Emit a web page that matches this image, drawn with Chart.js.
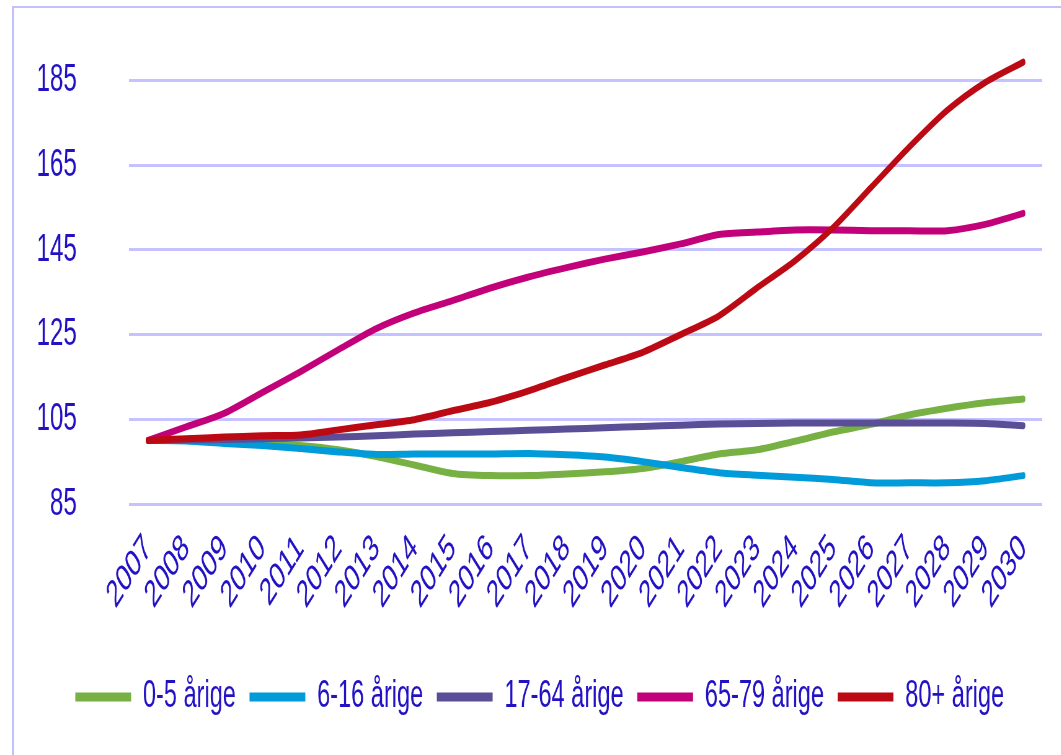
<!DOCTYPE html>
<html>
<head>
<meta charset="utf-8">
<title>Befolkningsudvikling 2007-2030</title>
<script src="https://cdn.jsdelivr.net/npm/chart.js@4.4.0/dist/chart.umd.min.js"></script>
<style>
  html, body { margin: 0; padding: 0; background: #fff; overflow: hidden; }
  #frame {
    position: absolute; left: 12px; top: 6px; width: 1100px; height: 800px;
    border-left: 2px solid #c4c0ff; border-top: 2px solid #c4c0ff;
  }
  /* the original picture is squeezed sideways, so the chart is drawn wide and scaled down */
  #squash {
    position: absolute; left: 0; top: 0; width: 1711px; height: 755px;
    transform: scaleX(0.62); transform-origin: 0 0;
  }
</style>
</head>
<body>
<div id="frame"></div>
<div id="squash"><canvas id="chart"></canvas></div>
<script>
// Data (index, 2007 = 100)
const years = ['2007', '2008', '2009', '2010', '2011', '2012', '2013', '2014', '2015', '2016', '2017', '2018',
    '2019', '2020', '2021', '2022', '2023', '2024', '2025', '2026', '2027', '2028', '2029', '2030'];
const age0to5 = [100, 100, 99.8, 99.4, 98.8, 97.8, 96.2, 94.2, 92.2, 91.7, 91.7, 92.1,
    92.6, 93.4, 95.0, 96.8, 97.8, 99.8, 102.0, 103.8, 106.0, 107.6, 108.9, 109.8];
const age6to16 = [100, 99.9, 99.3, 98.8, 98.1, 97.3, 96.7, 96.8, 96.8, 96.8, 96.9, 96.6,
    96.1, 95.0, 93.6, 92.4, 91.8, 91.3, 90.8, 90.0, 90.0, 90.0, 90.5, 91.7];
const age17to64 = [100, 100.1, 100.2, 100.4, 100.6, 100.8, 101.1, 101.5, 101.8, 102.1, 102.4, 102.7,
    103.0, 103.3, 103.6, 103.9, 104.0, 104.1, 104.1, 104.1, 104.1, 104.1, 104.0, 103.5];
const age65to79 = [100, 103.2, 106.4, 111.3, 116.2, 121.4, 126.4, 130.1, 133.0, 136.0, 138.6, 140.8,
    142.8, 144.5, 146.4, 148.6, 149.2, 149.7, 149.7, 149.5, 149.5, 149.5, 151.0, 153.6];
const age80plus = [100, 100.4, 100.8, 101.1, 101.3, 102.5, 103.7, 104.9, 107.0, 109.0, 111.7, 114.8,
    117.8, 120.8, 125.0, 129.4, 136.0, 142.4, 150.2, 159.7, 169.2, 177.9, 184.5, 189.3];
const seriesNames = ['0-5 årige', '6-16 årige', '17-64 årige', '65-79 årige', '80+ årige'];
const yTicks = [85, 105, 125, 145, 165, 185];

const colors = ['#77b043', '#009bd8', '#5a4e96', '#c2007a', '#bc0a14'];
const textColor = '#2212c4';
const gridColor = '#c6c2ff';
const fontFamily = "'Liberation Sans', Arial, sans-serif";

const seriesValues = [age0to5, age6to16, age17to64, age65to79, age80plus];

// Excel puts later series on top, so give them a lower draw order
const datasets = seriesValues.map((values, i) => ({
    label: seriesNames[i],
    data: values,
    borderColor: colors[i],
    backgroundColor: colors[i],
    borderWidth: 7,
    borderCapStyle: 'round',
    borderJoinStyle: 'round',
    pointRadius: 0,
    tension: 0.25,
    order: seriesValues.length - i
}));

new Chart(document.getElementById('chart'), {
    type: 'line',
    data: {
        labels: years,
        datasets: datasets
    },
    options: {
        responsive: true,
        maintainAspectRatio: false,
        animation: false,
        layout: {
            padding: { left: 60, right: 30, top: 38, bottom: 29 }
        },
        scales: {
            x: {
                offset: true,
                grid: { display: false },
                border: { display: false },
                ticks: {
                    color: textColor,
                    font: { family: fontFamily, size: 38 },
                    minRotation: 45,
                    maxRotation: 45,
                    autoSkip: false,
                    padding: 14
                },
                afterFit: function (scale) {
                    scale.height = 152;
                }
            },
            y: {
                min: 85,
                max: 195,
                grid: { color: gridColor, lineWidth: 3, drawTicks: false },
                border: { display: false },
                ticks: {
                    color: textColor,
                    font: { family: fontFamily, size: 39 },
                    padding: 84
                },
                afterBuildTicks: function (scale) {
                    scale.ticks = yTicks.map((v) => ({ value: v }));
                },
                afterFit: function (scale) {
                    scale.width = 148;
                    // keep the big label padding from pushing the plot down
                    scale.paddingTop = 0;
                    scale.paddingBottom = 0;
                }
            }
        },
        plugins: {
            tooltip: { enabled: false },
            legend: {
                position: 'bottom',
                labels: {
                    color: textColor,
                    font: { family: fontFamily, size: 38 },
                    usePointStyle: true,
                    pointStyle: 'line',
                    pointStyleWidth: 90,
                    padding: 22,
                    sort: (a, b) => a.datasetIndex - b.datasetIndex,
                    generateLabels: function (chart) {
                        const items = Chart.defaults.plugins.legend.labels.generateLabels(chart);
                        items.forEach((item) => { item.lineWidth = 9; });
                        return items;
                    }
                }
            }
        }
    }
});
</script>
</body>
</html>
